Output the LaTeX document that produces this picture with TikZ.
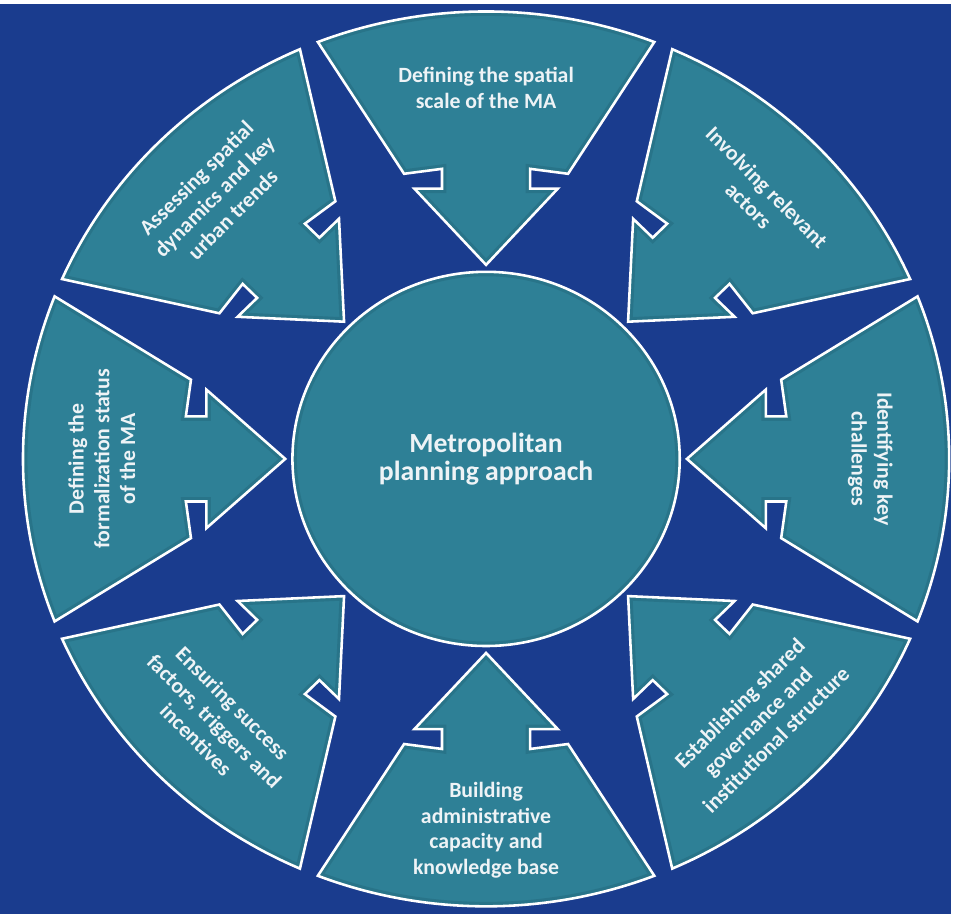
\documentclass[tikz,border=0pt]{standalone}
\usepackage{fontspec}
\setmainfont{Carlito}

\definecolor{bgblue}{HTML}{1A3C8E}
\definecolor{segteal}{HTML}{2E8096}
\definecolor{segdark}{HTML}{1F5F72}
\definecolor{lbltext}{HTML}{EEF3F6}

% one arrow segment, pointing down onto the hub
\newcommand{\segpath}{(111.3:452) arc[start angle=111.3, end angle=68.7, radius=452]
  -- (80,288) -- (43,293) -- (43,273) -- (70,273) -- (0,196)
  -- (-70,273) -- (-43,273) -- (-43,293) -- (-80,288) -- cycle}

\begin{document}
\begin{tikzpicture}[x=1pt, y=1pt,
    segment/.style={draw=white, line width=2.6pt, line join=miter},
    lbl/.style={text=lbltext, align=center, font=\fontsize{22}{26}\selectfont\bfseries},
    hubtext/.style={text=lbltext, align=center, font=\fontsize{28}{28}\selectfont\bfseries}]
  \fill[bgblue] (0,0) rectangle (961,920);
  \begin{scope}[shift={(491,460)}, xscale=1.035]
    \foreach \ang/\rot/\txt [count=\i] in {
        90/0/{Defining the spatial\\scale of the MA},
        45/-45/{Involving relevant\\actors},
        0/-90/{Identifying key\\challenges},
        -45/45/{Establishing shared\\governance and\\institutional structure},
        -90/0/{Building\\administrative\\capacity and\\knowledge base},
        -135/-45/{Ensuring success\\factors, triggers and\\incentives},
        180/90/{Defining the\\formalization status\\of the MA},
        135/45/{Assessing spatial\\dynamics and key\\urban trends}}
    {
      \begin{scope}[rotate=\ang-90]
        \fill[segteal] \segpath;
        \begin{scope}
          \clip \segpath;
          \draw[segdark, line width=9pt, opacity=.35] \segpath;
        \end{scope}
        \draw[segment] \segpath;
        \node[lbl, rotate=\rot] (step\i) at (0,375) {\txt};
      \end{scope}
    }
    % the hub
    \fill[segteal] (0,0) circle[radius=189];
    \begin{scope}
      \clip (0,0) circle[radius=189];
      \draw[segdark, line width=9pt, opacity=.35] (0,0) circle[radius=189];
    \end{scope}
    \draw[segment] (0,0) circle[radius=189];
    \node[hubtext] (hub) at (0,0) {Metropolitan\\planning approach};
  \end{scope}
\end{tikzpicture}
\end{document}
